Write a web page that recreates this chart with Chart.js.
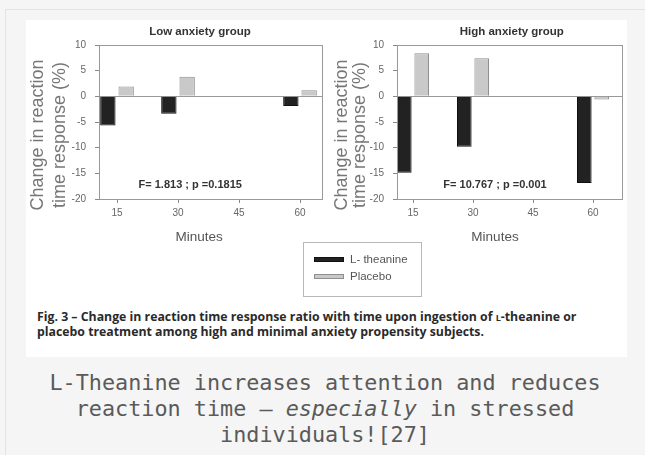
<!DOCTYPE html>
<html>
<head>
<meta charset="utf-8">
<script src="https://cdn.jsdelivr.net/npm/chart.js@4/dist/chart.umd.min.js"></script>
<style>
html,body{margin:0;padding:0;background:#f5f5f5;}
body{width:645px;height:455px;overflow:hidden;position:relative;font-family:"Liberation Sans",Arial,sans-serif;}
#frame{position:absolute;left:5px;top:9px;width:700px;height:500px;border:1px solid #e3e3e3;}
#figure{position:absolute;left:26px;top:20px;width:601px;height:337px;background:#fff;}
canvas{position:absolute;top:0;}
#low{left:0;}
#high{left:298px;}
#legend{position:absolute;left:277px;top:222px;width:117px;height:53px;border:1px solid #b8b8b8;box-sizing:content-box;}
.item{position:absolute;left:10px;height:14px;display:flex;align-items:center;font-size:11.5px;color:#555;}
.swatch{width:28px;height:3px;margin-right:6px;border:1px solid #555;}
#caption{position:absolute;left:11px;top:289px;width:590px;font-family:"Open Sans",sans-serif;font-weight:700;font-size:12.3px;line-height:15px;color:#2a2a2a;white-space:nowrap;}
.sc{font-variant:small-caps;font-weight:700;}
#note{position:absolute;left:0;top:370px;width:650px;text-align:center;font-family:"DejaVu Sans Mono",monospace;font-size:21.8px;line-height:26px;color:#5a5a5a;}
</style>
</head>
<body>
<div id="frame"></div>
<div id="figure">
  <canvas id="low" width="298" height="230"></canvas>
  <canvas id="high" width="303" height="230"></canvas>
  <div id="legend"></div>
  <div id="caption">Fig. 3 – Change in reaction time response ratio with time upon ingestion of <span class="sc">l</span>-theanine or<br>placebo treatment among high and minimal anxiety propensity subjects.</div>
</div>
<div id="note">L-Theanine increases attention and reduces<br>reaction time – <em>especially</em> in stressed<br>individuals![27]</div>
<script>
'use strict';

const minutes = [15, 30, 45, 60];
const yTicks = [10, 5, 0, -5, -10, -15, -20];
const seriesNames = ['L- theanine', 'Placebo'];
const seriesColors = ['#222222', '#c9c9c9'];
const seriesBorders = ['#111111', '#8f8f8f'];
const lowTheanine = [-5.7, -3.4, null, -1.9];
const lowPlacebo = [1.9, 3.8, null, 1.2];
const highTheanine = [-14.9, -9.8, null, -16.9];
const highPlacebo = [8.4, 7.4, null, -0.6];
const panelTitles = ['Low anxiety group', 'High anxiety group'];
const statNotes = ['F= 1.813 ; p =0.1815', 'F= 10.767 ; p =0.001'];
const xTitle = 'Minutes';
const yTitleLines = ['Change in reaction', 'time response (%)'];

const FONT = '"Liberation Sans", Arial, sans-serif';

function points(vals){
  return minutes.map((m, i)=>({x:m, y:vals[i]})).filter((p)=>p.y !== null);
}

// frame + panel texts (title, stat note, axis titles)
const panelText = {
  id:'panelText',
  afterDraw(chart, args, o){
    const {ctx, chartArea:a, scales:{x, y}} = chart;
    ctx.save();
    ctx.strokeStyle = '#999';
    ctx.lineWidth = 1;
    ctx.strokeRect(Math.round(a.left)+0.5, Math.round(a.top)+0.5, Math.round(a.right-a.left), Math.round(a.bottom-a.top));

    ctx.textAlign = 'center';
    ctx.textBaseline = 'middle';
    ctx.fillStyle = '#333';
    ctx.font = 'bold 11.5px ' + FONT;
    ctx.fillText(o.title, x.getPixelForValue(o.titleAt), a.top - 13);

    ctx.font = 'bold 11px ' + FONT;
    ctx.fillText(o.note, x.getPixelForValue(o.noteAt), y.getPixelForValue(-17.3));

    ctx.fillStyle = '#555';
    ctx.font = '13.5px ' + FONT;
    ctx.fillText(xTitle, x.getPixelForValue(o.xTitleAt), a.bottom + 38);

    ctx.fillStyle = '#777';
    ctx.font = '18px ' + FONT;
    const cy = (a.top + a.bottom)/2 + 13;
    yTitleLines.forEach((line, i)=>{
      ctx.save();
      ctx.translate(a.left + o.yTitleOffsets[i], cy);
      ctx.rotate(-Math.PI/2);
      ctx.fillText(line, 0, 0);
      ctx.restore();
    });
    ctx.restore();
  }
};

function makePanel(id, theanine, placebo, cfg){
  return new Chart(document.getElementById(id), {
    type:'bar',
    data:{
      datasets:[theanine, placebo].map((vals, i)=>({
        label:seriesNames[i],
        data:points(vals),
        backgroundColor:seriesColors[i],
        borderColor:seriesBorders[i],
        borderWidth:1,
        categoryPercentage:cfg.catPct,
        barPercentage:0.84
      }))
    },
    options:{
      responsive:false,
      animation:false,
      layout:{padding:{top:25, right:cfg.padRight, left:0, bottom:0}},
      plugins:{
        legend:{display:false},
        tooltip:{enabled:false},
        panelText:cfg.text
      },
      scales:{
        x:{
          type:'linear', min:cfg.xMin, max:cfg.xMax, offset:false,
          afterBuildTicks:(s)=>{ s.ticks = minutes.map((v)=>({value:v})); },
          afterFit:(s)=>{ s.height = 51; },
          grid:{drawOnChartArea:false, offset:false, tickLength:4, tickColor:'#888'},
          border:{color:'#888'},
          ticks:{font:{size:10, family:FONT}, color:'#666', padding:4, maxRotation:0}
        },
        y:{
          min:-20, max:10,
          afterBuildTicks:(s)=>{ s.ticks = yTicks.map((v)=>({value:v})); },
          afterFit:(s)=>{ s.width = 73; },
          grid:{color:(c)=>(c.tick && c.tick.value === 0) ? '#999' : 'rgba(0,0,0,0)', tickColor:'#888', tickLength:4},
          border:{color:'#888'},
          ticks:{font:{size:10, family:FONT}, color:'#666', padding:9}
        }
      }
    },
    plugins:[panelText]
  });
}

function makeLegend(){
  const box = document.getElementById('legend');
  seriesNames.forEach((name, i)=>{
    const row = document.createElement('div');
    row.className = 'item';
    row.style.top = (9 + i*17) + 'px';
    const sw = document.createElement('span');
    sw.className = 'swatch';
    sw.style.background = seriesColors[i];
    sw.style.borderColor = seriesBorders[i];
    row.appendChild(sw);
    row.appendChild(document.createTextNode(name));
    box.appendChild(row);
  });
}

window.addEventListener('load', ()=>{
  makePanel('low', lowTheanine, lowPlacebo, {
    xMin:10.57, xMax:65.41, padRight:2, catPct:0.6,
    text:{title:panelTitles[0], titleAt:35.4, note:statNotes[0], noteAt:33, xTitleAt:35.2, yTitleOffsets:[-61, -39]}
  });
  makePanel('high', highTheanine, highPlacebo, {
    xMin:11, xMax:67.25, padRight:5, catPct:0.58,
    text:{title:panelTitles[1], titleAt:39.7, note:statNotes[1], noteAt:35.5, xTitleAt:35.5, yTitleOffsets:[-55, -37]}
  });
  makeLegend();
});
</script>
</body>
</html>
